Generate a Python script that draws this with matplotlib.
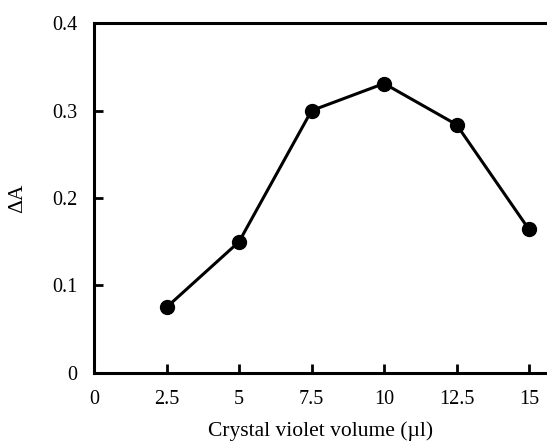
import matplotlib
matplotlib.use("Agg")
import matplotlib.pyplot as plt

volume_ul = [2.5, 5, 7.5, 10, 12.5, 15]
delta_a = [0.075, 0.15, 0.30, 0.331, 0.284, 0.164]
x_ticks = [0, 2.5, 5, 7.5, 10, 12.5, 15]
x_tick_labels = ["0", "2.5", "5", "7.5", "10", "12.5", "15"]
y_ticks = [0, 0.1, 0.2, 0.3, 0.4]
y_tick_labels = ["0", "0.1", "0.2", "0.3", "0.4"]

plt.rcParams["font.family"] = ["Liberation Serif", "DejaVu Serif"]

fig = plt.figure(figsize=(5.47, 4.46), dpi=100)
ax = fig.add_axes([0.172, 0.164, 0.828, 0.784])

ax.plot(volume_ul, delta_a, color="black", linewidth=2.2,
        marker="o", markersize=10, zorder=3, clip_on=False)

ax.set_xlim(0, 15.62)
ax.set_ylim(0, 0.4)
ax.set_xticks(x_ticks)
ax.set_xticklabels(x_tick_labels)
ax.set_yticks(y_ticks)
ax.set_yticklabels(y_tick_labels)
ax.tick_params(direction="in", length=6.5, width=2, labelsize=14.5)
ax.tick_params(axis="x", pad=12)
ax.tick_params(axis="y", pad=12)

for side in ("left", "bottom", "top"):
    ax.spines[side].set_linewidth(2.2)
ax.spines["right"].set_visible(False)

ax.set_xlabel("Crystal violet volume (\u00b5l)", fontsize=15.5, labelpad=9)
ax.set_ylabel("\u0394A", fontsize=15.5, labelpad=18)

fig.savefig("out.png", dpi=100)
plt.close(fig)
